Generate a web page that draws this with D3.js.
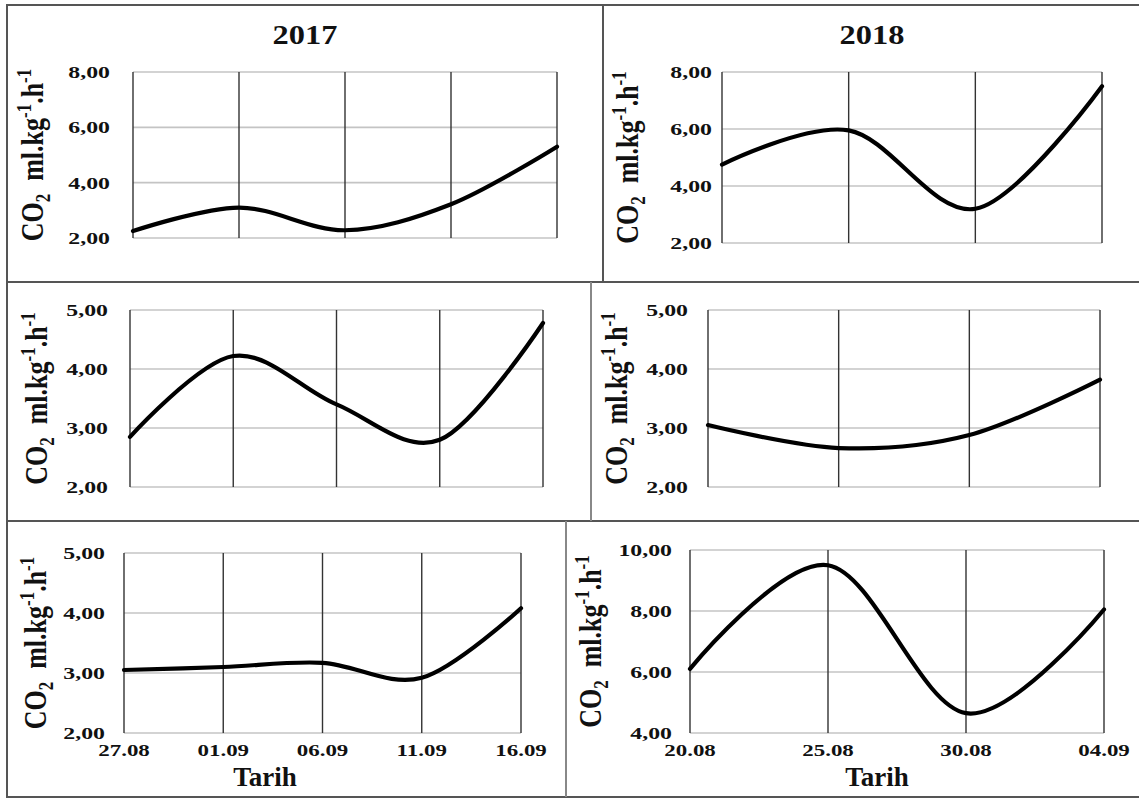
<!DOCTYPE html>
<html><head><meta charset="utf-8">
<script src="https://cdn.jsdelivr.net/npm/d3@7/dist/d3.min.js"></script>
<style>
html,body{margin:0;padding:0;background:#fff;}
svg{display:block;}
text{font-family:"Liberation Serif","Times New Roman",serif;font-weight:bold;fill:#111;}
</style></head>
<body><svg id="chart" width="1139" height="799"></svg>
<script>
// ---- data ----
const dates2017 = ["27.08","01.09","06.09","11.09","16.09"];
const dates2018 = ["20.08","25.08","30.08","04.09"];
const yearTitles = ["2017","2018"];
const co2Row1_2017 = [2.25, 3.10, 2.28, 3.22, 5.30];
const co2Row1_2018 = [4.75, 5.95, 3.20, 7.50];
const co2Row2_2017 = [2.85, 4.22, 3.40, 2.80, 4.78];
const co2Row2_2018 = [3.05, 2.66, 2.88, 3.82];
const co2Row3_2017 = [3.05, 3.10, 3.17, 2.92, 4.08];
const co2Row3_2018 = [6.10, 9.50, 4.65, 8.05];
const ticksA = [2,4,6,8];
const ticksB = [2,3,4,5];
const ticksC = [4,6,8,10];
const xAxisTitle = "Tarih";

// ---- layout ----
const panels = [
  {vals:co2Row1_2017, dates:dates2017, ticks:ticksA, x0:133,x1:557,y0:72,y1:238, tickR:110, labX:43, title:yearTitles[0], tx:305, ty:44, showX:false},
  {vals:co2Row1_2018, dates:dates2018, ticks:ticksA, x0:722,x1:1102,y0:72,y1:243, tickR:712, labX:638, title:yearTitles[1], tx:872, ty:44, showX:false},
  {vals:co2Row2_2017, dates:dates2017, ticks:ticksB, x0:130,x1:543,y0:310,y1:487, tickR:108, labX:47, showX:false},
  {vals:co2Row2_2018, dates:dates2018, ticks:ticksB, x0:708,x1:1100,y0:310,y1:487, tickR:688, labX:627, showX:false},
  {vals:co2Row3_2017, dates:dates2017, ticks:ticksB, x0:124,x1:521,y0:553,y1:733, tickR:105, labX:46, showX:true, ax:265},
  {vals:co2Row3_2018, dates:dates2018, ticks:ticksC, x0:690,x1:1104,y0:550,y1:733, tickR:672, labX:601, showX:true, ax:877}
];

const svg = d3.select("#chart");
const frame = svg.append("g").attr("stroke","#555").attr("stroke-width",2).attr("fill","none");
frame.append("rect").attr("x",7).attr("y",5).attr("width",1140).attr("height",792);
frame.append("line").attr("x1",7).attr("x2",1139).attr("y1",282).attr("y2",282);
frame.append("line").attr("x1",7).attr("x2",1139).attr("y1",521).attr("y2",521);
frame.append("line").attr("x1",603).attr("x2",603).attr("y1",5).attr("y2",282);
frame.append("line").attr("x1",591).attr("x2",591).attr("y1",282).attr("y2",521).attr("stroke","#888");
frame.append("line").attr("x1",566).attr("x2",566).attr("y1",521).attr("y2",797).attr("stroke","#888");

panels.forEach(p => {
  const g = svg.append("g");
  const x = d3.scalePoint().domain(p.dates).range([p.x0,p.x1]);
  const y = d3.scaleLinear().domain([p.ticks[0], p.ticks[p.ticks.length-1]]).range([p.y1,p.y0]);

  // horizontal grid (light)
  g.append("g").selectAll("line").data(p.ticks).join("line")
    .attr("x1",p.x0).attr("x2",p.x1).attr("y1",d=>y(d)).attr("y2",d=>y(d))
    .attr("stroke","#c4c4c4").attr("stroke-width",1.6);
  // vertical grid (dark)
  g.append("g").selectAll("line").data(p.dates).join("line")
    .attr("x1",d=>x(d)).attr("x2",d=>x(d)).attr("y1",p.y0).attr("y2",p.y1)
    .attr("stroke","#333").attr("stroke-width",1.4);

  // y tick labels
  g.append("g").selectAll("text").data(p.ticks).join("text")
    .attr("text-anchor","end")
    .attr("transform",d=>`translate(${p.tickR},${y(d)+6}) scale(1.4,1)`)
    .style("font-size","17px")
    .text(d=>d3.format(".2f")(d).replace(".",","));

  // x tick labels
  if (p.showX) {
    g.append("g").selectAll("text").data(p.dates).join("text")
      .attr("text-anchor","middle")
      .attr("transform",d=>`translate(${x(d)},${p.y1+23}) scale(1.35,1)`)
      .style("font-size","17px")
      .text(d=>d);
    g.append("text").attr("x",p.ax).attr("y",786).attr("text-anchor","middle")
      .style("font-size","27px").text(xAxisTitle);
  }

  // title
  if (p.title) {
    g.append("text").attr("text-anchor","middle")
      .attr("transform",`translate(${p.tx},${p.ty}) scale(1.2,1)`)
      .style("font-size","27px").text(p.title);
  }

  // y-axis label
  const cy = (p.y0+p.y1)/2;
  const t = g.append("text").attr("text-anchor","middle")
    .attr("transform",`translate(${p.labX},${cy}) scale(1.2,1) rotate(-90)`)
    .style("font-size","26px");
  t.append("tspan").text("CO");
  t.append("tspan").attr("dy",6).style("font-size","17px").text("2");
  t.append("tspan").attr("dy",-6).text("\u00a0\u00a0ml.kg");
  t.append("tspan").attr("dy",-10).style("font-size","17px").text("-1");
  t.append("tspan").attr("dy",10).text(".h");
  t.append("tspan").attr("dy",-10).style("font-size","17px").text("-1");

  // line
  const line = d3.line().x((d,i)=>x(p.dates[i])).y(d=>y(d)).curve(d3.curveCardinal.tension(0));
  g.append("path").datum(p.vals).attr("d",line)
    .attr("fill","none").attr("stroke","#000").attr("stroke-width",4.2).attr("stroke-linecap","round");
});
</script></body></html>
